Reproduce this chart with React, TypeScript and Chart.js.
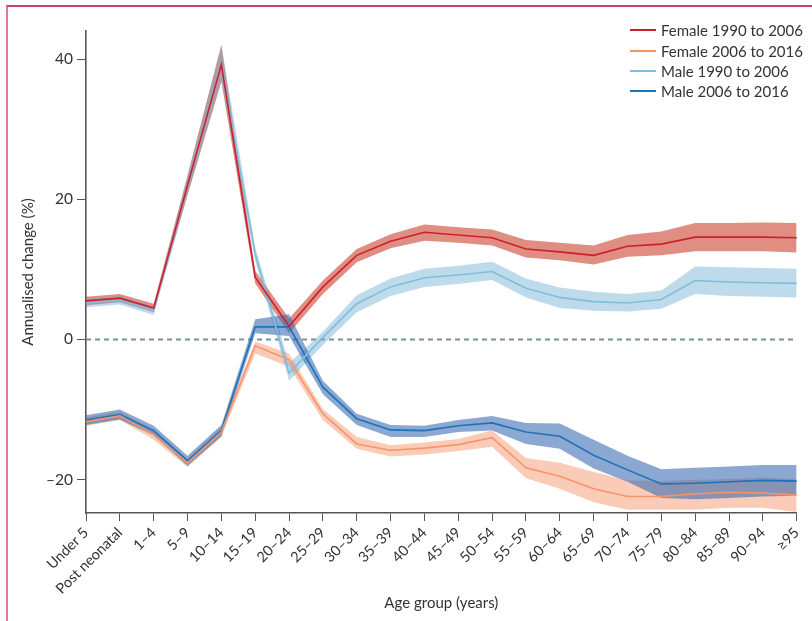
import React, { useEffect, useRef } from "react";
import { Chart, registerables } from "chart.js";

Chart.register(...registerables);

const categories = [
  "Under 5", "Post neonatal", "1–4", "5–9", "10–14", "15–19", "20–24", "25–29",
  "30–34", "35–39", "40–44", "45–49", "50–54", "55–59", "60–64", "65–69",
  "70–74", "75–79", "80–84", "85–89", "90–94", "≥95",
];
const yTicks = [-20, 0, 20, 40];
const seriesNames = ["Female 1990 to 2006", "Female 2006 to 2016", "Male 1990 to 2006", "Male 2006 to 2016"];

const female1990 = [5.5, 5.9, 4.5, 22, 39.2, 8.9, 1.9, 7.5, 12.0, 14.0, 15.3, 14.9, 14.5, 12.9, 12.5, 12.0, 13.3, 13.6, 14.6, 14.6, 14.6, 14.5];
const female1990Upper = [6.1, 6.5, 5.1, 23.4, 42.0, 9.8, 3.0, 8.4, 12.9, 15.0, 16.4, 16.0, 15.7, 14.2, 13.8, 13.4, 14.9, 15.4, 16.6, 16.6, 16.7, 16.6];
const female1990Lower = [4.9, 5.3, 3.9, 20.6, 36.8, 8.0, 0.9, 6.5, 11.0, 13.0, 14.1, 13.8, 13.4, 11.7, 11.3, 10.7, 11.8, 12.0, 12.6, 12.6, 12.6, 12.4];

const female2006 = [-11.7, -10.9, -13.6, -17.6, -13.2, -0.9, -2.9, -10.6, -14.9, -15.8, -15.5, -15.0, -14.0, -18.3, -19.5, -21.3, -22.4, -22.4, -22.0, -21.8, -21.9, -22.2];
const female2006Upper = [-11.1, -10.3, -12.9, -17.0, -12.5, -0.3, -2.0, -9.9, -13.9, -15.1, -14.7, -14.2, -13.0, -16.9, -17.6, -18.9, -20.1, -20.2, -20.0, -19.9, -19.7, -19.9];
const female2006Lower = [-12.3, -11.5, -14.3, -18.2, -13.9, -2.0, -3.9, -11.5, -15.6, -16.7, -16.4, -15.9, -15.3, -19.8, -21.3, -23.2, -24.3, -24.3, -24.3, -24.0, -24.0, -24.6];

const male1990 = [5.2, 5.6, 4.1, 22, 39.2, 12.2, -4.8, 0.3, 5.1, 7.5, 8.8, 9.2, 9.7, 7.3, 6.0, 5.4, 5.2, 5.7, 8.4, 8.2, 8.1, 8.0];
const male1990Upper = [5.8, 6.2, 4.7, 23.4, 42.0, 13.2, -3.4, 1.1, 6.3, 8.7, 10.1, 10.5, 11.1, 8.7, 7.4, 6.8, 6.5, 7.0, 10.4, 10.3, 10.2, 10.1];
const male1990Lower = [4.6, 5.0, 3.5, 20.6, 36.8, 11.2, -5.9, -0.8, 3.9, 6.2, 7.5, 7.9, 8.5, 6.0, 4.5, 4.1, 4.0, 4.4, 6.5, 6.2, 6.1, 6.0];

const male2006 = [-11.5, -10.7, -13.0, -17.3, -13.0, 1.8, 1.8, -6.8, -11.3, -12.9, -13.0, -12.3, -11.9, -13.2, -13.8, -16.5, -18.6, -20.6, -20.5, -20.3, -20.1, -20.2];
const male2006Upper = [-10.8, -10.0, -12.3, -16.6, -12.2, 2.9, 3.6, -5.9, -10.6, -12.2, -12.3, -11.5, -10.9, -11.9, -12.0, -14.3, -16.6, -18.5, -18.3, -18.1, -17.9, -17.9];
const male2006Lower = [-12.2, -11.4, -13.7, -18.0, -13.8, 0.9, 0.5, -7.8, -12.2, -13.9, -13.9, -13.2, -13.0, -14.9, -15.6, -18.4, -20.3, -22.6, -22.8, -22.6, -22.4, -22.3];

const zeroLine = categories.map(() => 0);

const lineColors = ["#cc1f2f", "#f4956d", "#80bedb", "#1f72b6"];
const bandColors = [
  "rgba(200,55,35,0.57)",
  "rgba(244,130,80,0.42)",
  "rgba(110,175,210,0.45)",
  "rgba(60,110,180,0.6)",
];

const FONT = "Lato, 'Open Sans', sans-serif";

export default function App() {
  const ref = useRef<HTMLCanvasElement>(null);

  useEffect(() => {
    const canvas = ref.current;
    if (!canvas) return;
    const mids = [female1990, female2006, male1990, male2006];
    const uppers = [female1990Upper, female2006Upper, male1990Upper, male2006Upper];
    const lowers = [female1990Lower, female2006Lower, male1990Lower, male2006Lower];

    const lineSets: any[] = mids.map((d, i) => ({
      label: seriesNames[i],
      data: d,
      borderColor: lineColors[i],
      backgroundColor: lineColors[i],
      borderWidth: 1.6,
      pointRadius: 0,
      fill: false,
      tension: 0,
      order: i + 1,
    }));
    const zeroSet: any = {
      label: "zero",
      data: zeroLine,
      borderColor: "#7a9296",
      borderWidth: 2,
      borderDash: [5, 4],
      pointRadius: 0,
      fill: false,
      order: 30,
    };
    const bandSets: any[] = [];
    for (let i = 0; i < 4; i++) {
      bandSets.push({
        label: "band-upper-" + i,
        data: uppers[i],
        borderWidth: 0,
        borderColor: "rgba(0,0,0,0)",
        pointRadius: 0,
        fill: "+1",
        backgroundColor: bandColors[i],
        tension: 0,
        order: 20 - i,
      });
      bandSets.push({
        label: "band-lower-" + i,
        data: lowers[i],
        borderWidth: 0,
        borderColor: "rgba(0,0,0,0)",
        pointRadius: 0,
        fill: false,
        tension: 0,
        order: 20 - i,
      });
    }

    const chart = new Chart(canvas, {
      type: "line",
      data: {
        labels: categories,
        datasets: [...lineSets, zeroSet, ...bandSets],
      },
      options: {
        responsive: false,
        animation: false,
        events: [],
        layout: { padding: { left: 0, right: 15, top: 31, bottom: 0 } },
        plugins: {
          legend: { display: false },
          tooltip: { enabled: false },
          filler: { propagate: false },
        },
        scales: {
          x: {
            type: "category",
            offset: false,
            grid: {
              display: true,
              drawOnChartArea: false,
              drawTicks: true,
              tickLength: 8,
              color: "#555",
              lineWidth: 1,
              offset: false,
            },
            border: { display: true, color: "#555", width: 1.6 },
            ticks: {
              autoSkip: false,
              maxRotation: 45,
              minRotation: 45,
              color: "#333",
              padding: 3,
              font: { family: FONT, size: 14.5 },
            },
            title: {
              display: true,
              text: "Age group (years)",
              color: "#333",
              font: { family: FONT, size: 15 },
              padding: { top: 0, bottom: 9 },
            },
            afterFit: (s: any) => {
              s.height = 108;
            },
          },
          y: {
            min: -24.75,
            max: 44,
            afterBuildTicks: (s: any) => {
              s.ticks = yTicks.map((v) => ({ value: v }));
            },
            grid: {
              display: true,
              drawOnChartArea: false,
              drawTicks: true,
              tickLength: 9,
              color: "#555",
            },
            border: { display: true, color: "#555", width: 1.6 },
            ticks: {
              color: "#333",
              padding: 4,
              font: { family: FONT, size: 15.5 },
              callback: (v: any) => (Number(v) < 0 ? "–" + Math.abs(Number(v)) : String(v)),
            },
            title: {
              display: true,
              text: "Annualised change (%)",
              color: "#333",
              font: { family: FONT, size: 15 },
              padding: { top: 19, bottom: 0 },
            },
            afterFit: (s: any) => {
              s.width = 86;
            },
          },
        },
      },
    });
    return () => chart.destroy();
  }, []);

  return (
    <div
      style={{
        position: "fixed",
        left: 0,
        top: 0,
        width: 812,
        height: 621,
        overflow: "hidden",
        background: "#fff",
      }}
    >
      <div
        style={{
          position: "absolute",
          left: 6,
          top: 5,
          width: 830,
          height: 640,
          borderTop: "2px solid #d43d66",
          borderLeft: "2px solid #e0799a",
        }}
      />
      <canvas
        ref={ref}
        width={812}
        height={621}
        style={{ position: "absolute", left: 0, top: 0, width: 812, height: 621 }}
      />
      <div style={{ position: "absolute", left: 630, top: 20, fontFamily: FONT, fontSize: 15, color: "#333" }}>
        {seriesNames.map((name, i) => (
          <div key={name} style={{ display: "flex", alignItems: "center", height: 20.4 }}>
            <span style={{ display: "inline-block", width: 26, height: 2, background: lineColors[i] }} />
            <span style={{ marginLeft: 5, whiteSpace: "nowrap" }}>{name}</span>
          </div>
        ))}
      </div>
    </div>
  );
}
